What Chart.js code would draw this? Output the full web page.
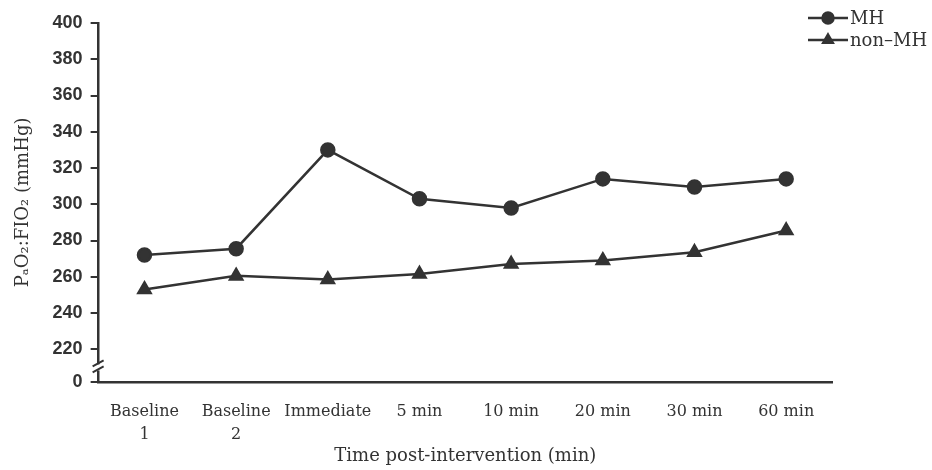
<!DOCTYPE html>
<html>
<head>
<meta charset="utf-8">
<script src="https://cdn.jsdelivr.net/npm/chart.js@4.4.1/dist/chart.umd.min.js"></script>
<style>
  body { margin: 0; background: #fff; }
  #wrap { width: 932px; height: 470px; }
</style>
</head>
<body>
<div id="wrap"><canvas id="chart" width="932" height="470"></canvas></div>
<script>
// time points along the x axis
const timePoints = [['Baseline', '1'], ['Baseline', '2'], 'Immediate', '5 min', '10 min', '20 min', '30 min', '60 min'];
// PaO2:FIO2 values
const mhValues = [272, 275.5, 330, 303, 298, 314, 309.5, 314];
const nonMhValues = [253, 260.5, 258.5, 261.5, 267, 269, 273.5, 285.5];
// y tick values; the lowest is drawn as "0" below the axis break
const yTicks = [202, 220, 240, 260, 280, 300, 320, 340, 360, 380, 400];

const ink = '#333';
const serif = '"DejaVu Serif", serif';

// draws the broken-axis mark, the x title and the line+marker legend
const extras = {
    id: 'extras',
    afterDraw(chart) {
        const ctx = chart.ctx;
        const area = chart.chartArea;
        const x0 = area.left;
        const yBreak = chart.scales.y.getPixelForValue(210);

        ctx.save();
        ctx.fillStyle = '#fff';
        ctx.fillRect(x0 - 3, yBreak - 3, 6, 6);
        ctx.strokeStyle = ink;
        ctx.lineWidth = 2;
        ctx.beginPath();
        ctx.moveTo(x0 - 6, yBreak - 1); ctx.lineTo(x0 + 5, yBreak - 7);
        ctx.moveTo(x0 - 6, yBreak + 5); ctx.lineTo(x0 + 5, yBreak - 1);
        ctx.stroke();

        // x axis title
        ctx.fillStyle = ink;
        ctx.font = '18px ' + serif;
        ctx.textAlign = 'center';
        ctx.textBaseline = 'middle';
        ctx.fillText('Time post-intervention (min)', (area.left + area.right) / 2, 456);

        // legend
        const items = [
            { label: 'MH', style: 'circle', y: 18 },
            { label: 'non\u2013MH', style: 'triangle', y: 40 }
        ];
        items.forEach(function(it) {
            ctx.strokeStyle = ink;
            ctx.lineWidth = 2.5;
            ctx.beginPath();
            ctx.moveTo(808, it.y);
            ctx.lineTo(848, it.y);
            ctx.stroke();
            ctx.fillStyle = ink;
            Chart.helpers.drawPoint(ctx, { pointStyle: it.style, radius: 5.5, borderWidth: 1 }, 828, it.y);
            ctx.fill();
            ctx.font = '18px ' + serif;
            ctx.textBaseline = 'middle';
            ctx.textAlign = 'left';
            ctx.fillText(it.label, 850, it.y + 1);
        });
        ctx.restore();
    }
};

new Chart(document.getElementById('chart'), {
    type: 'line',
    data: {
        labels: timePoints,
        datasets: [
            {
                label: 'MH',
                data: mhValues,
                borderColor: ink,
                backgroundColor: ink,
                borderWidth: 2.5,
                pointStyle: 'circle',
                pointRadius: 6.5,
                tension: 0
            },
            {
                label: 'non\u2013MH',
                data: nonMhValues,
                borderColor: ink,
                backgroundColor: ink,
                borderWidth: 2.5,
                pointStyle: 'triangle',
                pointRadius: 7,
                tension: 0
            }
        ]
    },
    options: {
        responsive: false,
        animation: false,
        layout: { padding: { top: 23, right: 100, left: 13, bottom: 14 } },
        plugins: {
            legend: { display: false },
            tooltip: { enabled: false }
        },
        scales: {
            x: {
                offset: true,
                grid: { display: false },
                border: { display: true, color: ink, width: 2.5 },
                ticks: {
                    color: ink,
                    maxRotation: 0,
                    autoSkip: false,
                    padding: 10,
                    font: { family: serif, size: 16, lineHeight: 1.44 }
                }
            },
            y: {
                min: 202,
                max: 400,
                afterBuildTicks(axis) {
                    axis.ticks = yTicks.map(function(v) { return { value: v }; });
                },
                grid: { drawOnChartArea: false, drawTicks: true, tickLength: 8, color: ink, lineWidth: 2 },
                border: { display: true, color: ink, width: 2.5 },
                ticks: {
                    color: ink,
                    padding: 8,
                    font: { family: '"Liberation Sans", Arial, sans-serif', size: 18, weight: 'bold' },
                    callback: function(v) { return v === 202 ? '0' : v; }
                },
                title: {
                    display: true,
                    text: 'P\u2090O\u2082:FIO\u2082 (mmHg)',
                    color: ink,
                    padding: { top: 0, bottom: 10 },
                    font: { family: serif, size: 18 }
                }
            }
        }
    },
    plugins: [extras]
});
</script>
</body>
</html>
